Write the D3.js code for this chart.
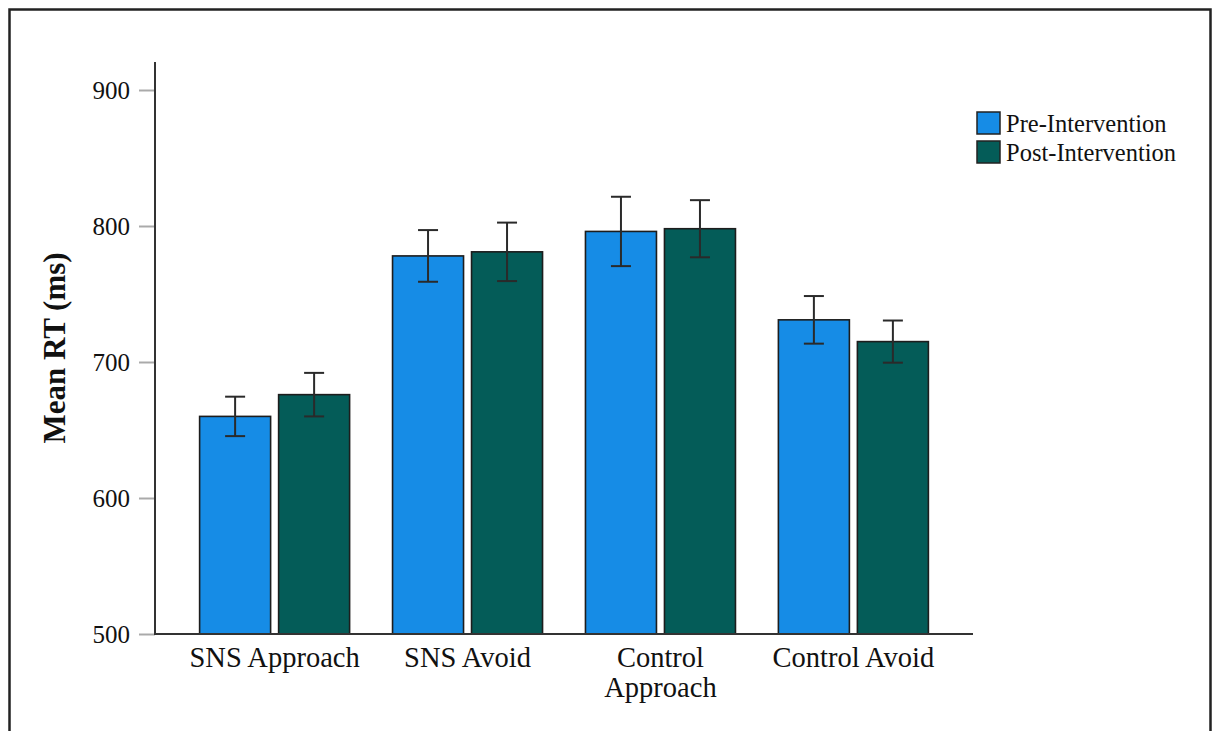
<!DOCTYPE html>
<html>
<head>
<meta charset="utf-8">
<script src="https://cdn.jsdelivr.net/npm/d3@7"></script>
<style>
  body { margin: 0; background: #fff; }
  svg text { font-family: "Liberation Serif", "Times New Roman", serif; fill: #111; }
</style>
</head>
<body>
<svg id="chart" width="1218" height="731"></svg>
<script>
// data
var categories = ["SNS Approach", "SNS Avoid", "Control Approach", "Control Avoid"];
var seriesNames = ["Pre-Intervention", "Post-Intervention"];
var preMeans  = [660, 778, 796, 731];
var postMeans = [676, 781, 798, 715];
var preErr    = [14.5, 19, 25.5, 17.5];
var postErr   = [16, 21.5, 21, 15.5];
var yTicks = [500, 600, 700, 800, 900];
var colors = ["#168ce6", "#045c58"];

var svg = d3.select("#chart");

// outer frame (no bottom edge, cropped)
svg.append("path")
   .attr("d", "M 9.5 731 L 9.5 9.5 L 1210.5 9.5 L 1210.5 731")
   .attr("fill", "none")
   .attr("stroke", "#222")
   .attr("stroke-width", 2.5);

var x0 = 155, x1 = 973, yTop = 62, yBase = 634;

var y = d3.scaleLinear().domain([500, 900]).range([yBase, 90]);

var xg = d3.scalePoint().domain(categories).range([x0, x1]).padding(0.62);
var barW = 71, gap = 8;

// bars
var rows = [];
categories.forEach(function(c, i){
	rows.push({cat: c, s: 0, v: preMeans[i], e: preErr[i]});
	rows.push({cat: c, s: 1, v: postMeans[i], e: postErr[i]});
});

function barX(d){
	var cx = xg(d.cat);
	return d.s == 0 ? cx - gap/2 - barW : cx + gap/2;
}

var g = svg.append("g");

g.selectAll(".bar")
 .data(rows).enter()
 .append("rect")
 .attr("class", "bar")
 .attr("x", barX)
 .attr("y", function(d){ return y(d.v); })
 .attr("width", barW)
 .attr("height", function(d){ return y(500) - y(d.v); })
 .attr("fill", function(d){ return colors[d.s]; })
 .attr("stroke", "#1d1d1d")
 .attr("stroke-width", 1.6);

// error bars
var eb = g.selectAll(".err")
 .data(rows).enter()
 .append("g")
 .attr("class", "err")
 .attr("stroke", "#2a2a2a")
 .attr("stroke-width", 2);

eb.append("line")
  .attr("x1", function(d){ return barX(d) + barW/2; })
  .attr("x2", function(d){ return barX(d) + barW/2; })
  .attr("y1", function(d){ return y(d.v + d.e); })
  .attr("y2", function(d){ return y(d.v - d.e); });
eb.append("line")
  .attr("x1", function(d){ return barX(d) + barW/2 - 10; })
  .attr("x2", function(d){ return barX(d) + barW/2 + 10; })
  .attr("y1", function(d){ return y(d.v + d.e); })
  .attr("y2", function(d){ return y(d.v + d.e); });
eb.append("line")
  .attr("x1", function(d){ return barX(d) + barW/2 - 10; })
  .attr("x2", function(d){ return barX(d) + barW/2 + 10; })
  .attr("y1", function(d){ return y(d.v - d.e); })
  .attr("y2", function(d){ return y(d.v - d.e); });

// y axis
var yAxis = svg.append("g")
   .attr("transform", "translate(" + x0 + ",0)")
   .call(d3.axisLeft(y).tickValues(yTicks).tickSize(16).tickPadding(9).tickSizeOuter(0));
yAxis.select(".domain").remove();
yAxis.selectAll(".tick line").attr("stroke", "#aaa").attr("stroke-width", 2);
yAxis.selectAll(".tick text")
     .style("font-size", "25px")
     .attr("fill", "#111")
     .attr("dy", "0.34em");

// axis lines
svg.append("line")
   .attr("x1", x0).attr("x2", x0)
   .attr("y1", yTop).attr("y2", yBase)
   .attr("stroke", "#333").attr("stroke-width", 2);
svg.append("line")
   .attr("x1", x0 - 1).attr("x2", x1)
   .attr("y1", yBase).attr("y2", yBase)
   .attr("stroke", "#333").attr("stroke-width", 2);

// category labels
var catText = svg.append("g").selectAll(".cat")
   .data(categories).enter()
   .append("text")
   .attr("class", "cat")
   .attr("text-anchor", "middle")
   .style("font-size", "28.5px")
   .attr("y", 667);
catText.each(function(d){
	var t = d3.select(this);
	var cx = xg(d);
	var lines = d == "Control Approach" ? ["Control", "Approach"] : [d];
	lines.forEach(function(l, i){
		t.append("tspan").attr("x", cx).attr("dy", i == 0 ? 0 : 30).text(l);
	});
});

// y label
svg.append("text")
   .attr("transform", "translate(65,348) rotate(-90)")
   .attr("text-anchor", "middle")
   .style("font-size", "31px")
   .style("font-weight", "bold")
   .text("Mean RT (ms)");

// legend
var leg = svg.append("g").selectAll(".leg")
   .data(seriesNames).enter()
   .append("g")
   .attr("class", "leg")
   .attr("transform", function(d, i){ return "translate(977," + (112 + i*29) + ")"; });
leg.append("rect")
   .attr("width", 23).attr("height", 22)
   .attr("fill", function(d, i){ return colors[i]; })
   .attr("stroke", "#222").attr("stroke-width", 1.5);
leg.append("text")
   .attr("x", 29).attr("y", 20)
   .style("font-size", "24.5px")
   .text(function(d){ return d; });
</script>
</body>
</html>
